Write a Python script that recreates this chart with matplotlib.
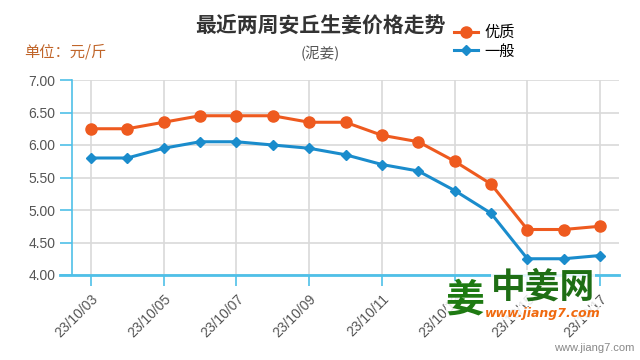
import matplotlib
matplotlib.use("Agg")
import matplotlib.pyplot as plt

plt.rcParams['font.family'] = ['Noto Sans CJK SC', 'DejaVu Sans']

dates = ["23/10/03", "23/10/04", "23/10/05", "23/10/06", "23/10/07", "23/10/08",
         "23/10/09", "23/10/10", "23/10/11", "23/10/12", "23/10/13", "23/10/14",
         "23/10/15", "23/10/16", "23/10/17"]
premium = [6.25, 6.25, 6.35, 6.45, 6.45, 6.45, 6.35, 6.35, 6.15, 6.05, 5.75, 5.40, 4.70, 4.70, 4.75]
ordinary = [5.80, 5.80, 5.95, 6.05, 6.05, 6.00, 5.95, 5.85, 5.70, 5.60, 5.30, 4.95, 4.25, 4.25, 4.30]
yticks = [4.0, 4.5, 5.0, 5.5, 6.0, 6.5, 7.0]

ORANGE = "#ee5a1f"
BLUE = "#1a8ccc"
AXIS = "#4fc0e8"

fig = plt.figure(figsize=(6.4, 3.6), dpi=100)
ax = fig.add_axes([72/640, 1-275/360, (619-72)/640, (275-80)/360])

x = list(range(len(dates)))
ax.plot(x, premium, color=ORANGE, lw=2.2, marker='o', ms=8, label="优质", zorder=3)
ax.plot(x, ordinary, color=BLUE, lw=2.2, marker='D', ms=5.5, label="一般", zorder=3)

ax.set_xlim(-0.52, 14.52)
ax.set_ylim(4.0, 7.0)
ax.set_yticks(yticks)
ax.set_yticklabels([f"{v:.2f}" for v in yticks], color="#555555", fontsize=10,
                   family=['Liberation Sans', 'DejaVu Sans'])
ax.set_xticks(x[::2])
ax.set_xticklabels(dates[::2], rotation=45, ha='right', rotation_mode='anchor',
                   color="#555555", fontsize=10, family=['Liberation Sans', 'DejaVu Sans'])
ax.tick_params(axis='y', length=9, width=1.2, color=AXIS, pad=3)
ax.tick_params(axis='x', length=8, width=1.2, color=AXIS, pad=4)

ax.grid(True, color="#d9d9d9", lw=1.2, zorder=0)
ax.set_axisbelow(True)
for s in ['top', 'right']:
    ax.spines[s].set_visible(False)
ax.spines['left'].set_color(AXIS)
ax.spines['left'].set_linewidth(1.2)
ax.spines['bottom'].set_color(AXIS)
ax.spines['bottom'].set_linewidth(2.0)
ax.spines['bottom'].set_bounds(-0.52 - 12/36.36, 14.52)

fig.text(0.5, 1-25/360, "最近两周安丘生姜价格走势", ha='center', va='center',
         fontsize=15, fontweight='bold', color="#333333")
fig.text(24/640, 1-52/360, "单位：元/斤", ha='left', va='center', fontsize=11, color="#c0652a")
fig.text(320/640, 1-53/360, "(泥姜)", ha='center', va='center', fontsize=10.5, color="#555555")

leg = fig.legend(loc='upper left', bbox_to_anchor=(454/640, 1-24/360), frameon=False,
                 fontsize=11, handlelength=1.6, handletextpad=0.4, labelspacing=0.1,
                 borderpad=0, borderaxespad=0)

# watermark
fig.text(465/640, 1-300/360, "姜", ha='center', va='center', fontsize=28,
         fontweight='bold', color="#1e7a12",
         bbox=dict(facecolor='white', edgecolor='none', alpha=0.85, pad=0))
fig.text(543/640, 1-287/360, "中姜网", ha='center', va='center', fontsize=25,
         fontweight='bold', color="#1e6e14",
         bbox=dict(facecolor='white', edgecolor='none', alpha=0.85, pad=0))
fig.text(543/640, 1-313/360, "www.jiang7.com", ha='center', va='center', fontsize=9,
         fontweight='bold', style='italic', color="#f06a10",
         family=['DejaVu Sans'],
         bbox=dict(facecolor='white', edgecolor='none', alpha=0.85, pad=0))
fig.text(634/640, 1-348/360, "www.jiang7.com", ha='right', va='center', fontsize=8,
         color="#888888", family=['Liberation Sans', 'DejaVu Sans'])

fig.savefig("out.png", dpi=100)
